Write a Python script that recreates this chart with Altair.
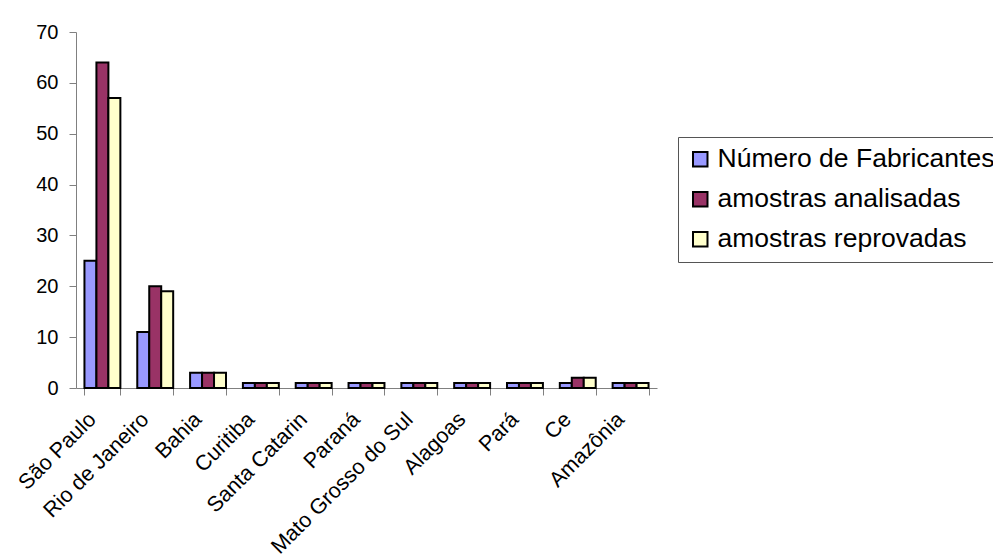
import altair as alt
import pandas as pd

# Regiões e séries
regioes = ["São Paulo", "Rio de Janeiro", "Bahia", "Curitiba", "Santa Catarin",
           "Paraná", "Mato Grosso do Sul", "Alagoas", "Pará", "Ce", "Amazônia"]
series = ["Número de Fabricantes", "amostras analisadas", "amostras  reprovadas"]
fabricantes = [25, 11, 3, 1, 1, 1, 1, 1, 1, 1, 1]
analisadas = [64, 20, 3, 1, 1, 1, 1, 1, 1, 2, 1]
reprovadas = [57, 19, 3, 1, 1, 1, 1, 1, 1, 2, 1]
cores = ["#9999FF", "#993366", "#FFFFCC"]

rows = []
for vals, s in zip([fabricantes, analisadas, reprovadas], series):
    for r, v in zip(regioes, vals):
        rows.append({"regiao": r, "serie": s, "valor": v})
df = pd.DataFrame(rows)

font = "Liberation Sans"

chart = alt.Chart(df).mark_bar(stroke="black", strokeWidth=2).encode(
    x=alt.X("regiao:N", sort=regioes, title=None,
            scale=alt.Scale(paddingInner=0.32, paddingOuter=0.16),
            axis=alt.Axis(labelAngle=-45, labelAlign="right", labelBaseline="middle",
                          labelFontSize=21.5, labelFont=font, labelColor="black",
                          labelPadding=21, labelOffset=-10, tickBand="extent", tickSize=7,
                          domainColor="#808080", tickColor="#808080", labelLimit=400)),
    xOffset=alt.XOffset("serie:N", sort=series, scale=alt.Scale(paddingInner=0, paddingOuter=0)),
    y=alt.Y("valor:Q", title=None,
            scale=alt.Scale(domain=[0, 70], nice=False),
            axis=alt.Axis(values=list(range(0, 71, 10)), grid=False, tickSize=7,
                          labelFontSize=20, labelFont=font, labelColor="black",
                          labelPadding=11, domainColor="#808080", tickColor="#808080")),
    fill=alt.Fill("serie:N", sort=series,
                  scale=alt.Scale(domain=series, range=cores),
                  legend=alt.Legend(title=None, orient="none", legendX=602, legendY=105,
                                    labelFontSize=26.5, labelFont=font, labelColor="black",
                                    symbolType="square", symbolSize=210,
                                    symbolStrokeColor="black", symbolStrokeWidth=2,
                                    rowPadding=13, labelOffset=4,
                                    strokeColor="#555555", padding=9,
                                    labelLimit=500)),
).properties(
    width=581, height=356,
    autosize=alt.AutoSizeParams(type="none"),
    padding={"left": 76, "top": 32, "right": 336, "bottom": 172},
).configure_view(stroke=None)

chart.save("out.html", embed_options={"renderer": "svg", "actions": False})
